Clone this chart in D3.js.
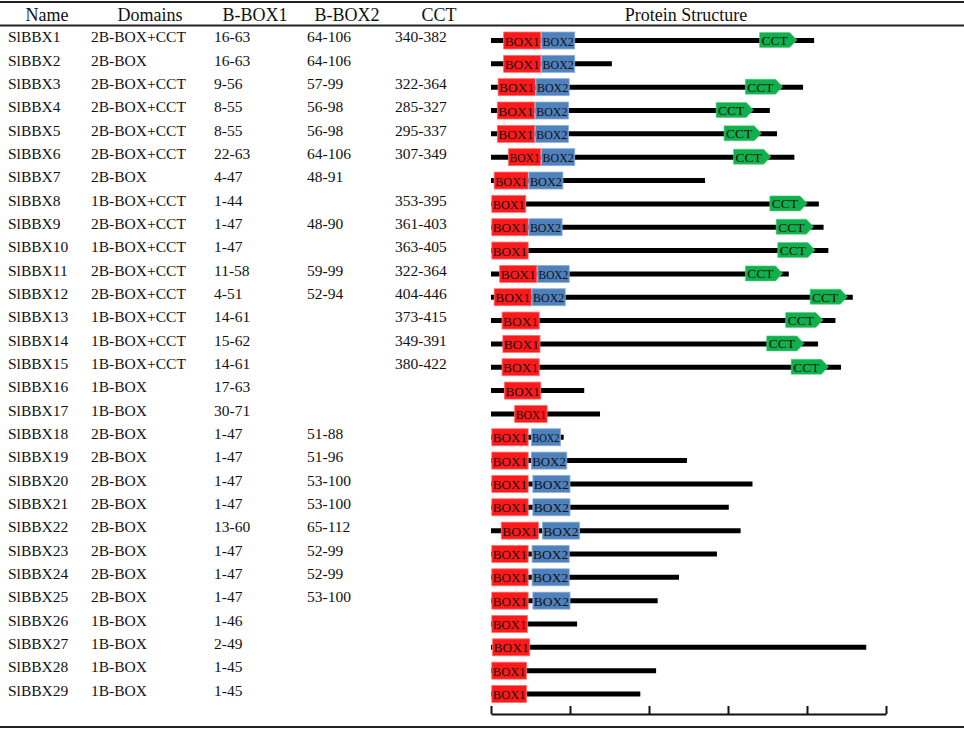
<!DOCTYPE html>
<html>
<head>
<meta charset="utf-8">
<script src="https://cdn.jsdelivr.net/npm/d3@7"></script>
<style>
  body { margin: 0; background: #fff; }
  text { font-family: "Liberation Serif", "Times New Roman", serif; fill: #111; }
</style>
</head>
<body>
<div id="chart"></div>
<script>
// table data
const names = ["SlBBX1","SlBBX2","SlBBX3","SlBBX4","SlBBX5","SlBBX6","SlBBX7","SlBBX8","SlBBX9","SlBBX10",
  "SlBBX11","SlBBX12","SlBBX13","SlBBX14","SlBBX15","SlBBX16","SlBBX17","SlBBX18","SlBBX19","SlBBX20",
  "SlBBX21","SlBBX22","SlBBX23","SlBBX24","SlBBX25","SlBBX26","SlBBX27","SlBBX28","SlBBX29"];
const domains = ["2B-BOX+CCT","2B-BOX","2B-BOX+CCT","2B-BOX+CCT","2B-BOX+CCT","2B-BOX+CCT","2B-BOX","1B-BOX+CCT","2B-BOX+CCT","1B-BOX+CCT",
  "2B-BOX+CCT","2B-BOX+CCT","1B-BOX+CCT","1B-BOX+CCT","1B-BOX+CCT","1B-BOX","1B-BOX","2B-BOX","2B-BOX","2B-BOX",
  "2B-BOX","2B-BOX","2B-BOX","2B-BOX","2B-BOX","1B-BOX","1B-BOX","1B-BOX","1B-BOX"];
const bbox1 = ["16-63","16-63","9-56","8-55","8-55","22-63","4-47","1-44","1-47","1-47",
  "11-58","4-51","14-61","15-62","14-61","17-63","30-71","1-47","1-47","1-47",
  "1-47","13-60","1-47","1-47","1-47","1-46","2-49","1-45","1-45"];
const bbox2 = ["64-106","64-106","57-99","56-98","56-98","64-106","48-91","","48-90","",
  "59-99","52-94","","","","","","51-88","51-96","53-100",
  "53-100","65-112","52-99","52-99","53-100","","","",""];
const cct = ["340-382","","322-364","285-327","295-337","307-349","","353-395","361-403","363-405",
  "322-364","404-446","373-415","349-391","380-422","","","","","",
  "","","","","","","","",""];
// protein lengths (aa), estimated from the line ends
const lengths = [409,153,395,353,362,384,271,415,421,427,
  377,458,436,414,443,118,138,92,248,331,
  301,316,286,238,211,109,475,209,189];
const axisTicks = [0,100,200,300,400,500];

const W = 964, H = 730;

const svg = d3.select("#chart").append("svg")
  .attr("width", W)
  .attr("height", H);

function parseRange(s) {
  if (!s) return null;
  const p = s.split("-");
  return [+p[0], +p[1]];
}

// scales
const x = d3.scaleLinear().domain([0, 500]).range([491, 886]);
const y = d3.scalePoint().domain(names).range([40.5, 694]);

// table rules
[2, 25.5, 727].forEach(function(ry) {
  svg.append("line").attr("x1", 0).attr("x2", W).attr("y1", ry).attr("y2", ry)
    .attr("stroke", "#222").attr("stroke-width", 2);
});

// header
const headers = [
  { label: "Name", cx: 47 },
  { label: "Domains", cx: 150 },
  { label: "B-BOX1", cx: 255 },
  { label: "B-BOX2", cx: 347 },
  { label: "CCT", cx: 439 },
  { label: "Protein Structure", cx: 686 }
];
svg.selectAll(".hdr")
  .data(headers)
  .enter()
  .append("text")
  .attr("class", "hdr")
  .attr("x", d => d.cx)
  .attr("y", 20.5)
  .attr("text-anchor", "middle")
  .style("font-size", "18px")
  .text(d => d.label);

// table columns
const columns = [
  { vals: names, x: 8 },
  { vals: domains, x: 91 },
  { vals: bbox1, x: 214 },
  { vals: bbox2, x: 307 },
  { vals: cct, x: 395 }
];
columns.forEach(function(col) {
  svg.append("g").selectAll("text")
    .data(names)
    .enter()
    .append("text")
    .attr("x", col.x)
    .attr("y", d => y(d) + 1.8)
    .style("font-size", "15.5px")
    .text((d, i) => col.vals[i]);
});

// protein structures
const rows = names.map((n, i) => ({
  name: n,
  len: lengths[i],
  b1: parseRange(bbox1[i]),
  b2: parseRange(bbox2[i]),
  cct: parseRange(cct[i])
}));

const boxH = 17;
const prot = svg.append("g");

prot.selectAll(".backbone")
  .data(rows)
  .enter()
  .append("line")
  .attr("class", "backbone")
  .attr("x1", x(0))
  .attr("x2", d => x(d.len))
  .attr("y1", d => y(d.name))
  .attr("y2", d => y(d.name))
  .attr("stroke", "#000")
  .attr("stroke-width", 5);

function drawBoxes(key, label, fill, edge) {
  const sel = prot.selectAll(".box-" + key)
    .data(rows.filter(d => d[key]))
    .enter()
    .append("g")
    .attr("class", "box-" + key);
  sel.append("rect")
    .attr("x", d => x(d[key][0]))
    .attr("y", d => y(d.name) - boxH / 2)
    .attr("width", d => x(d[key][1]) - x(d[key][0]))
    .attr("height", boxH)
    .attr("fill", fill)
    .attr("stroke", edge)
    .attr("stroke-width", 0.8);
  sel.append("text")
    .attr("x", d => (x(d[key][0]) + x(d[key][1])) / 2)
    .attr("y", d => y(d.name) + 5)
    .attr("text-anchor", "middle")
    .style("font-size", "13.5px")
    .text(label)
    .each(function(d) {
      // squeeze the label a little when the box is narrow
      const room = x(d[key][1]) - x(d[key][0]) - 2;
      if (this.getComputedTextLength() > room) {
        d3.select(this).attr("textLength", room).attr("lengthAdjust", "spacingAndGlyphs");
      }
    });
}
drawBoxes("b1", "BOX1", "#fe1a1a", "#ff7070");
drawBoxes("b2", "BOX2", "#4f81bd", "#8fb0da");

// CCT arrows
const cctSel = prot.selectAll(".cct")
  .data(rows.filter(d => d.cct))
  .enter()
  .append("g")
  .attr("class", "cct");
cctSel.append("path")
  .attr("d", function(d) {
    const x0 = x(d.cct[0]), x1 = x(d.cct[1]) - 3, tip = x(d.cct[1]) + 4;
    const cy = y(d.name) - 0.5, h = 7.5;
    return `M${x0},${cy - h}L${x1},${cy - h}L${tip},${cy}L${x1},${cy + h}L${x0},${cy + h}Z`;
  })
  .attr("fill", "#10b04c")
  .attr("stroke", "#5acb85")
  .attr("stroke-width", 0.6);
cctSel.append("text")
  .attr("x", d => (x(d.cct[0]) + x(d.cct[1]) - 3) / 2)
  .attr("y", d => y(d.name) + 4.5)
  .attr("text-anchor", "middle")
  .style("font-size", "13.5px")
  .text("CCT");

// scale bar
const axis = d3.axisTop(x)
  .tickValues(axisTicks)
  .tickSizeInner(8)
  .tickSizeOuter(0)
  .tickFormat("");
const axG = svg.append("g")
  .attr("transform", "translate(0,714)")
  .call(axis);
axG.select(".domain").attr("stroke", "#111").attr("stroke-width", 2);
axG.selectAll(".tick line").attr("stroke", "#111").attr("stroke-width", 2);
</script>
</body>
</html>
